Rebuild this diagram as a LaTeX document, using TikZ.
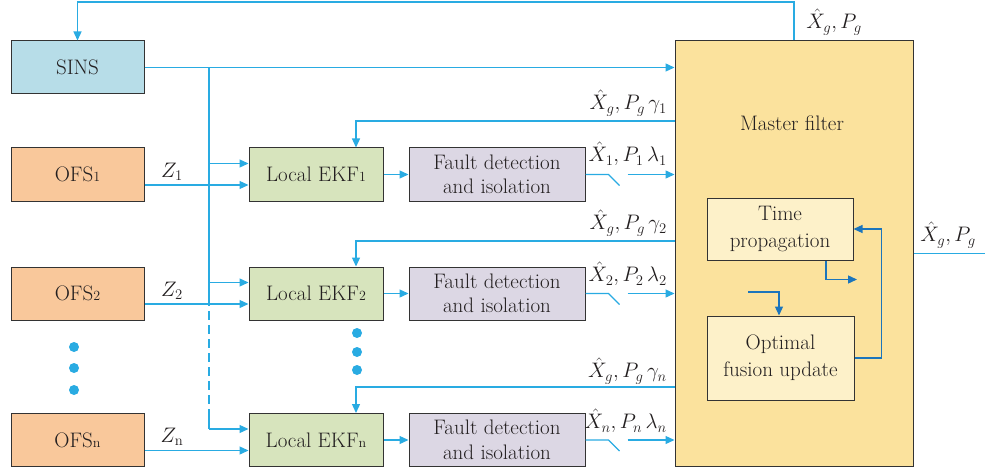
\RequirePackage{fix-cm}
\documentclass[tikz,border=0pt]{standalone}
\usepackage{fontspec}
\usetikzlibrary{arrows.meta,calc}
\definecolor{lblue}{HTML}{29ABE2}
\definecolor{dblue}{HTML}{1B75BC}
\definecolor{sinsc}{HTML}{B7DDE8}
\definecolor{ofsc}{HTML}{F9C89B}
\definecolor{ekfc}{HTML}{D7E4BD}
\definecolor{fdic}{HTML}{DCD7E4}
\definecolor{mastc}{HTML}{FBE29D}
\definecolor{innc}{HTML}{FDF1C9}
\definecolor{txt}{HTML}{231F20}
\newcommand{\sm}[1]{{\fontsize{14}{14}\selectfont #1}}
\begin{document}
\begin{tikzpicture}[x=1pt,y=-1pt,
  font=\fontsize{21}{24}\selectfont,
  box/.style={draw=black!80, line width=1pt, rectangle, inner sep=0pt, align=center, text=txt},
  ln/.style={draw=lblue, line width=1.3pt},
  arr/.style={draw=lblue, line width=1.3pt, -{Triangle[length=9pt,width=8pt]}, color=lblue},
  arrd/.style={draw=dblue, line width=1.3pt, -{Triangle[length=9pt,width=8pt]}, color=dblue},
  lab/.style={inner sep=0pt, text=txt},
  mlab/.style={inner sep=0pt, text=txt, font=\fontsize{21}{24}\selectfont},
  dot/.style={circle, fill=lblue, inner sep=0pt, minimum size=10pt}]
\useasboundingbox (0,0) rectangle (985,468);

% boxes
\node[box, fill=sinsc, minimum width=133pt, minimum height=53pt] (sins) at (77.5,67.5) {SINS};
\node[box, fill=ofsc, minimum width=133pt, minimum height=53pt] (ofs1) at (77.5,174.5) {OFS\sm{1}};
\node[box, fill=ofsc, minimum width=133pt, minimum height=53pt] (ofs2) at (77.5,293.5) {OFS\sm{2}};
\node[box, fill=ofsc, minimum width=133pt, minimum height=53pt] (ofsn) at (77.5,440) {OFS\sm{n}};

\node[box, fill=ekfc, minimum width=134pt, minimum height=53pt] (ekf1) at (316,174.5) {Local EKF\sm{1}};
\node[box, fill=ekfc, minimum width=134pt, minimum height=53pt] (ekf2) at (316,293.5) {Local EKF\sm{2}};
\node[box, fill=ekfc, minimum width=134pt, minimum height=53pt] (ekfn) at (316,440) {Local EKF\sm{n}};

\node[box, fill=fdic, minimum width=176pt, minimum height=53pt, font=\fontsize{21}{24.5}\selectfont] (fdi1) at (497,174.5) {Fault detection\\and isolation};
\node[box, fill=fdic, minimum width=176pt, minimum height=53pt, font=\fontsize{21}{24.5}\selectfont] (fdi2) at (497,293.5) {Fault detection\\and isolation};
\node[box, fill=fdic, minimum width=176pt, minimum height=53pt, font=\fontsize{21}{24.5}\selectfont] (fdin) at (497,440) {Fault detection\\and isolation};

\node[box, fill=mastc, minimum width=238pt, minimum height=425pt] (mast) at (794,253.5) {};
\node[lab] (mtitle) at (792,123) {Master filter};
\node[box, fill=innc, minimum width=146pt, minimum height=62pt, font=\fontsize{21}{27}\selectfont] (tp) at (780,229) {Time\\propagation};
\node[box, fill=innc, minimum width=147pt, minimum height=84pt, font=\fontsize{21}{27}\selectfont] (opt) at (780.5,358) {Optimal\\fusion update};

% dots
\node[dot] (d1) at (74,347) {};
\node[dot] (d2) at (74,368) {};
\node[dot] (d3) at (74,390) {};
\node[dot] (e1) at (357,333) {};
\node[dot] (e2) at (357,352) {};
\node[dot] (e3) at (357,370) {};

% top feedback
\draw[arr] (mast.north) -- (794,2) -| (sins.north);
\node[mlab] (ltop) at (834,22) {$\hat{X}_g, P_g$};

% SINS to master
\draw[arr] (sins.east) -- (sins.east -| mast.west);

% bus
\coordinate (bus) at (209,67.5);
\draw[ln] (bus) -- (209,297);
\draw[ln, dash pattern=on 9pt off 5pt] (209,297) -- (209,417);
\draw[ln] (209,417) -- (209,429);
\foreach \k in {1,2,n}{
  \coordinate (ea\k) at ([yshift=11pt]ekf\k.west);
  \draw[arr] (ea\k -| bus) -- (ea\k);
  \coordinate (za\k) at ([yshift=-10.5pt]ofs\k.east);
  \draw[arr] (za\k) -- (za\k -| ekf\k.west);
  \draw[arr] (ekf\k) -- (fdi\k);
  % switch
  \coordinate (sw\k) at ([xshift=23pt]fdi\k.east);
  \draw[ln] (fdi\k.east) -- (sw\k) -- ++(11,11);
  \coordinate (sb\k) at ([xshift=42pt]fdi\k.east);
  \draw[arr] (sb\k) -- (sb\k -| mast.west);
}
\node[mlab] (z1) at (172,172) {$Z_1$};
\node[mlab] (z2) at (172,291) {$Z_2$};
\node[mlab] (zn) at (172,437) {$Z_{\mathrm{n}}$};

% feedback to EKFs
\coordinate (fb1) at (356,121);
\coordinate (fb2) at (356,241);
\coordinate (fbn) at (356,387);
\draw[arr] (mast.west |- fb1) -- (fb1) -- (fb1 |- ekf1.north);
\draw[arr] (mast.west |- fb2) -- (fb2) -- (fb2 |- ekf2.north);
\draw[arr] (mast.west |- fbn) -- (fbn) -- (fbn |- ekfn.north);

% labels
\node[mlab, anchor=east] (g1) at (667,103) {$\hat{X}_g, P_g\,\gamma_1$};
\node[mlab, anchor=east] (l1) at (667,154) {$\hat{X}_1, P_1\,\lambda_1$};
\node[mlab, anchor=east] (g2) at (667,223) {$\hat{X}_g, P_g\,\gamma_2$};
\node[mlab, anchor=east] (l2) at (667,274) {$\hat{X}_2, P_2\,\lambda_2$};
\node[mlab, anchor=east] (gn) at (667,371) {$\hat{X}_g, P_g\,\gamma_n$};
\node[mlab, anchor=east] (ln) at (667,421) {$\hat{X}_n, P_n\,\lambda_n$};

% output
\coordinate (outend) at (985,253.5);
\draw[ln] (mast.east) -- (outend);
\node[mlab] (lout) at (948,235) {$\hat{X}_g, P_g$};

% inner arrows
\draw[arrd] (opt.east) -- ++(27,0) |- (tp.east);
\coordinate (tpo) at ([xshift=46pt]tp.south);
\draw[arrd] (tpo) -- ++(0,19) -- ++(31,0);
\coordinate (oin) at (748,292);
\draw[arrd] (oin) -| ([xshift=-1.5pt]opt.north);
\end{tikzpicture}
\end{document}
